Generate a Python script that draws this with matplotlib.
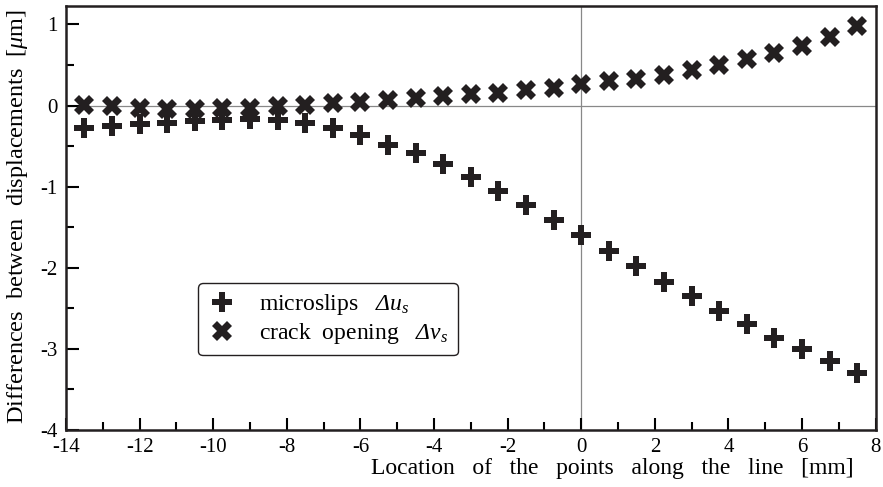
import matplotlib
matplotlib.use("Agg")
import matplotlib.pyplot as plt
from matplotlib.ticker import MultipleLocator

plt.rcParams['font.family'] = ['Liberation Serif', 'DejaVu Serif']
plt.rcParams['axes.unicode_minus'] = False
plt.rcParams['mathtext.fontset'] = 'custom'
plt.rcParams['mathtext.rm'] = 'Liberation Serif'
plt.rcParams['mathtext.it'] = 'Liberation Serif:italic'
plt.rcParams['mathtext.sf'] = 'Liberation Serif:italic'

# Posição dos pontos ao longo da linha [mm]
posicao = [-13.5, -12.75, -12, -11.25, -10.5, -9.75, -9, -8.25, -7.5, -6.75,
           -6, -5.25, -4.5, -3.75, -3, -2.25, -1.5, -0.75, 0, 0.75,
           1.5, 2.25, 3, 3.75, 4.5, 5.25, 6, 6.75, 7.5]

# microdeslizamentos (Delta u_s)
microslips = [-0.27, -0.25, -0.23, -0.21, -0.19, -0.18, -0.17, -0.18, -0.22, -0.27,
              -0.36, -0.48, -0.59, -0.72, -0.88, -1.05, -1.22, -1.41, -1.59, -1.79,
              -1.98, -2.17, -2.35, -2.53, -2.69, -2.86, -3.00, -3.15, -3.30]

# abertura da trinca (Delta v_s)
crack = [0.01, -0.01, -0.03, -0.04, -0.04, -0.03, -0.03, -0.01, 0.01, 0.03,
         0.04, 0.065, 0.09, 0.115, 0.14, 0.16, 0.19, 0.22, 0.27, 0.30,
         0.33, 0.38, 0.44, 0.50, 0.57, 0.65, 0.74, 0.85, 0.98]

cor = "#231f20"

fig = plt.figure(figsize=(8.83, 4.87), dpi=100)
ax = fig.add_axes([0.0747, 0.117, 0.917, 0.871])

ax.axhline(0, color="#888888", lw=0.9, zorder=1)
ax.axvline(0, color="#888888", lw=0.9, zorder=1)

ax.plot(posicao, microslips, linestyle="none", marker="P", ms=15, color=cor,
        markeredgewidth=0, label=r"microslips   $\mathsf{\Delta u}_\mathsf{s}$", zorder=3)
ax.plot(posicao, crack, linestyle="none", marker="X", ms=15, color=cor,
        markeredgewidth=0, label=r"crack  opening   $\mathsf{\Delta v}_\mathsf{s}$", zorder=3)

ax.set_xlim(-14, 8)
ax.set_ylim(-4, 1.23)
ax.xaxis.set_major_locator(MultipleLocator(2))
ax.xaxis.set_minor_locator(MultipleLocator(1))
ax.yaxis.set_major_locator(MultipleLocator(1))
ax.yaxis.set_minor_locator(MultipleLocator(0.5))
ax.tick_params(which="major", direction="in", length=9, width=1.5, labelsize=15, pad=6)
ax.tick_params(which="minor", direction="in", length=6, width=1.5)
for s in ax.spines.values():
    s.set_linewidth(1.8)
    s.set_color(cor)

fig.text(0.693, 0.038, "Location   of   the   points   along   the   line   [mm]",
         ha="center", va="center", fontsize=17)
fig.text(0.02, 0.555, r"Differences  between  displacements  [$\mathsf{\mu}$m]",
         ha="center", va="center", rotation=90, fontsize=17.5)

leg = ax.legend(loc="upper left", bbox_to_anchor=(0.163, 0.347), fontsize=17,
                frameon=True, fancybox=True, handletextpad=1.0, borderaxespad=0,
                labelspacing=0.15, borderpad=0.4, handlelength=1.2)
leg.get_frame().set_edgecolor(cor)
leg.get_frame().set_linewidth(1.0)
leg.get_frame().set_alpha(1)

plt.savefig("out.png", dpi=100)
